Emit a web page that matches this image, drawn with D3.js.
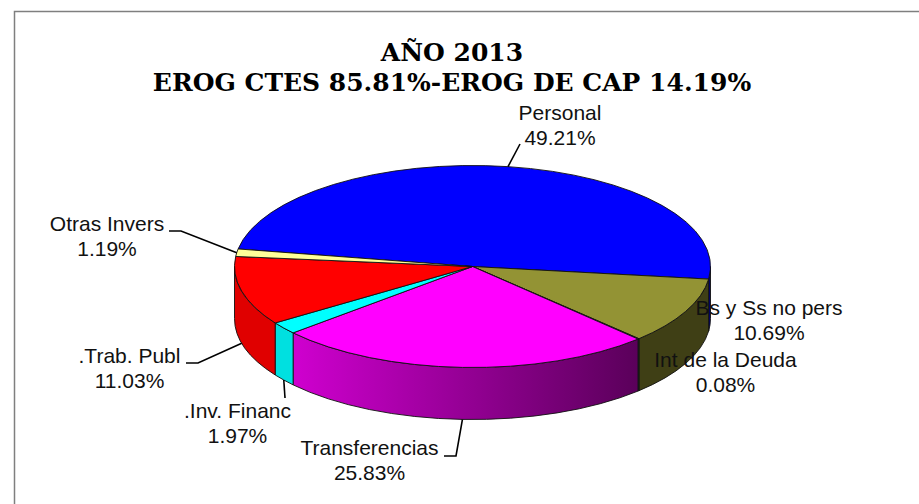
<!DOCTYPE html>
<html>
<head>
<meta charset="utf-8">
<script src="https://cdnjs.cloudflare.com/ajax/libs/d3/7.8.5/d3.min.js"></script>
<style>
  html, body { margin: 0; padding: 0; background: #fff; }
  svg { display: block; }
  .title { font-family: "DejaVu Serif", serif; font-weight: bold; font-size: 25px; fill: #000; text-anchor: middle; }
  .lbl { font-family: "Liberation Sans", Arial, sans-serif; font-size: 21px; fill: #111; text-anchor: middle; }
  .leader { fill: none; stroke: #000; stroke-width: 1.6; }
</style>
</head>
<body>
<svg width="919" height="504"></svg>
<script>
// data
var categories = ["Personal", "Bs y Ss no pers", "Int de la Deuda", "Transferencias", ".Inv. Financ", ".Trab. Publ", "Otras Invers"];
var shares = [49.21, 10.69, 0.08, 25.83, 1.97, 11.03, 1.19];
var titleLines = ["AÑO 2013", "EROG CTES 85.81%-EROG DE CAP 14.19%"];

var topColors = ["#0000ff", "#939334", "#339966", "#ff00ff", "#00ffff", "#ff0000", "#ffff99"];
// left and right colour of each slice's wall
var wallLeft = ["#00007a", "#3f3f15", "#1a4d33", "#cf00cf", "#00e0e0", "#e00000", "#b3b36b"];
var wallRight = ["#00007a", "#3f3f15", "#1a4d33", "#5a005a", "#00e0e0", "#e00000", "#b3b36b"];

var svg = d3.select("svg"),
    width = +svg.attr("width"),
    height = +svg.attr("height");

var cx = 472.5, cy = 266.5, rx = 238, ry = 101, depth = 52;
var toRad = Math.PI / 180;

// chart frame: only top and left show, the rest is cropped off
svg.append("path")
    .attr("d", "M14.5," + height + "V11.5H" + width)
    .attr("fill", "none")
    .attr("stroke", "#7f7f7f")
    .attr("stroke-width", 1.5);

svg.selectAll(".title")
    .data(titleLines)
  .enter().append("text")
    .attr("class", "title")
    .attr("x", 452)
    .attr("y", function(d, i) { return 60.5 + i * 30.5; })
    .text(function(d) { return d; });

var pie = d3.pie().sort(null).startAngle(-80 * toRad).endAngle(280 * toRad);
var arcs = pie(shares);

function rimX(a) { return cx + rx * Math.sin(a); }
function rimY(a) { return cy - ry * Math.cos(a); }

// wall of one slice, only the part facing the viewer (90deg to 270deg)
function wallPath(a0, a1) {
  var s = Math.max(a0, 90 * toRad), e = Math.min(a1, 270 * toRad);
  if (e <= s) return null;
  return "M" + rimX(s) + "," + rimY(s) +
    "A" + rx + "," + ry + " 0 0 1 " + rimX(e) + "," + rimY(e) +
    "V" + (rimY(e) + depth) +
    "A" + rx + "," + ry + " 0 0 0 " + rimX(s) + "," + (rimY(s) + depth) + "Z";
}

var defs = svg.append("defs");
arcs.forEach(function(d, i) {
  var s = Math.max(d.startAngle, 90 * toRad), e = Math.min(d.endAngle, 270 * toRad);
  var g = defs.append("linearGradient")
      .attr("id", "wall" + i)
      .attr("gradientUnits", "userSpaceOnUse")
      .attr("x1", Math.min(rimX(s), rimX(e))).attr("x2", Math.max(rimX(s), rimX(e)) + 0.01)
      .attr("y1", 0).attr("y2", 0);
  g.append("stop").attr("offset", 0).attr("stop-color", wallLeft[i]);
  g.append("stop").attr("offset", 1).attr("stop-color", wallRight[i]);
});

svg.append("g").selectAll("path")
    .data(arcs.filter(function(d) { return wallPath(d.startAngle, d.endAngle); }))
  .enter().append("path")
    .attr("d", function(d) { return wallPath(d.startAngle, d.endAngle); })
    .attr("fill", function(d) { return "url(#wall" + d.index + ")"; })
    .attr("stroke", "#111")
    .attr("stroke-width", 0.9);

var arc = d3.arc().innerRadius(0).outerRadius(rx);

svg.append("g")
    .attr("transform", "translate(" + cx + "," + cy + ") scale(1," + (ry / rx) + ")")
  .selectAll("path")
    .data(arcs)
  .enter().append("path")
    .attr("d", arc)
    .attr("fill", function(d) { return topColors[d.index]; })
    .attr("stroke", "#111")
    .attr("stroke-width", 0.9)
    .attr("vector-effect", "non-scaling-stroke");

// label placement by hand; leaders start from each slice's rim (side: on top or bottom edge)
var labelPos = [
  { x: 560, y: 120, elbow: [[520, 144]], edge: 0 },
  { x: 769, y: 315 },
  { x: 725.5, y: 367 },
  { x: 369.5, y: 455, elbow: [[456, 456], [444, 456]], edge: depth },
  { x: 237.5, y: 418, elbow: [[285, 398]], edge: depth },
  { x: 129.5, y: 363, elbow: [[198, 363], [186, 363]], edge: depth },
  { x: 107, y: 231, elbow: [[181, 231], [169, 231]], edge: 0 }
];

var line = d3.line();

arcs.forEach(function(d, i) {
  var p = labelPos[i];
  if (p.elbow) {
    var mid = (d.startAngle + d.endAngle) / 2;
    svg.append("path")
        .attr("class", "leader")
        .attr("d", line([[rimX(mid), rimY(mid) + p.edge]].concat(p.elbow)));
  }
  var t = svg.append("text").attr("class", "lbl");
  t.append("tspan").attr("x", p.x).attr("y", p.y).text(categories[i]);
  t.append("tspan").attr("x", p.x).attr("y", p.y + 24.5).text(shares[i].toFixed(2) + "%");
});
</script>
</body>
</html>
